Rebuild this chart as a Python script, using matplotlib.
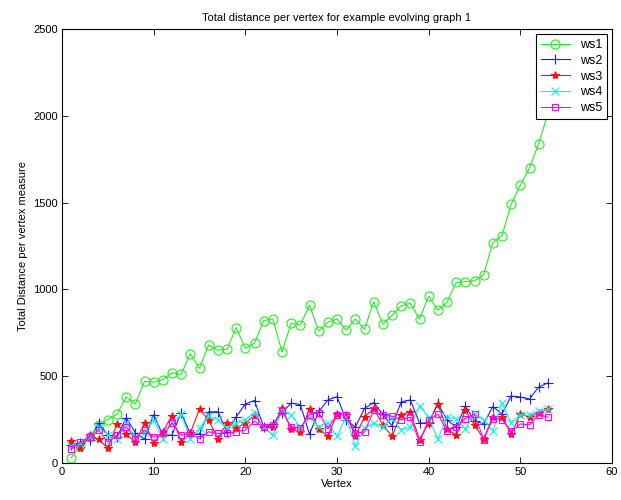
import numpy as np
import matplotlib
matplotlib.use('Agg')
import matplotlib.pyplot as plt

# Data
vertex = np.arange(1, 54)

ws1 = [30, 100, 150, 220, 250, 280, 380, 340, 470, 465,
       480, 520, 510, 630, 545, 680, 650, 655, 780, 660,
       690, 820, 830, 640, 805, 795, 910, 760, 810, 830,
       765, 830, 770, 930, 800, 850, 905, 920, 830, 960,
       880, 925, 1040, 1045, 1050, 1085, 1270, 1310, 1490, 1600,
       1700, 1840, 2010]

ws2 = [104, 115, 134, 230, 161, 150, 260, 175, 136, 279,
       161, 161, 290, 167, 167, 295, 295, 180, 265, 340,
       360, 207, 225, 290, 345, 336, 167, 295, 363, 382,
       248, 207, 314, 348, 282, 213, 352, 363, 230, 230,
       345, 248, 207, 328, 242, 225, 325, 282, 386, 380,
       368, 438, 461]

ws3 = [125, 86, 161, 136, 86, 225, 167, 120, 232, 115,
       180, 272, 120, 173, 310, 248, 140, 232, 202, 228,
       279, 207, 207, 314, 196, 178, 310, 196, 155, 282,
       279, 155, 265, 314, 219, 155, 279, 295, 134, 230,
       340, 196, 161, 305, 219, 140, 265, 265, 167, 282,
       265, 290, 310]

ws4 = [100, 110, 150, 210, 160, 140, 230, 150, 180, 250,
       140, 230, 280, 140, 200, 270, 250, 200, 230, 250,
       290, 207, 161, 305, 279, 207, 264, 207, 230, 155,
       265, 98, 202, 230, 207, 265, 190, 207, 328, 265,
       136, 265, 256, 196, 282, 248, 184, 345, 230, 279,
       274, 300, 310]

ws5 = [80, 120, 150, 190, 120, 160, 210, 140, 190, 150,
       170, 230, 160, 170, 140, 180, 170, 170, 180, 190,
       240, 207, 219, 300, 207, 202, 279, 290, 196, 279,
       279, 173, 178, 303, 274, 270, 248, 264, 120, 250,
       282, 184, 207, 256, 282, 134, 256, 250, 184, 225,
       219, 279, 264]

plt.rcParams['font.family'] = ['Liberation Sans', 'DejaVu Sans']
plt.rcParams['font.size'] = 8

fig = plt.figure(figsize=(6.21, 5.0), dpi=100)
ax = fig.add_axes([62 / 621, 37 / 500, 550 / 621, 434 / 500])

lw = dict(linewidth=0.8, markeredgewidth=0.8)
ax.plot(vertex, ws1, color='#22ee22', marker='o', ms=6.5, mfc='none', label='ws1', **lw)
ax.plot(vertex, ws2, color='#2020ee', marker='+', ms=6.5, label='ws2', **lw)
ax.plot(vertex, ws3, color='#ff1010', marker='*', ms=6, label='ws3', **lw)
ax.plot(vertex, ws4, color='#10eeee', marker='x', ms=5.5, label='ws4', **lw)
ax.plot(vertex, ws5, color='#ff00ff', marker='s', ms=5, mfc='none', label='ws5', **lw)

ax.set_xlim(0, 60)
ax.set_ylim(0, 2500)
ax.set_xticks(range(0, 61, 10))
ax.set_yticks(range(0, 2501, 500))
ax.tick_params(direction='in', top=True, right=True, length=4, width=0.6, pad=3)
for s in ax.spines.values():
    s.set_linewidth(0.8)

ax.set_title('Total distance per vertex for example evolving graph 1', fontsize=8, pad=6)
ax.set_xlabel('Vertex', labelpad=1)
ax.set_ylabel('Total Distance per vertex measure')

leg = ax.legend(loc='upper right', fancybox=False, framealpha=1, edgecolor='black',
                borderaxespad=0.4, handlelength=2.3, labelspacing=0.3, fontsize=9)
leg.get_frame().set_linewidth(0.8)

fig.savefig('out.png', dpi=100)
